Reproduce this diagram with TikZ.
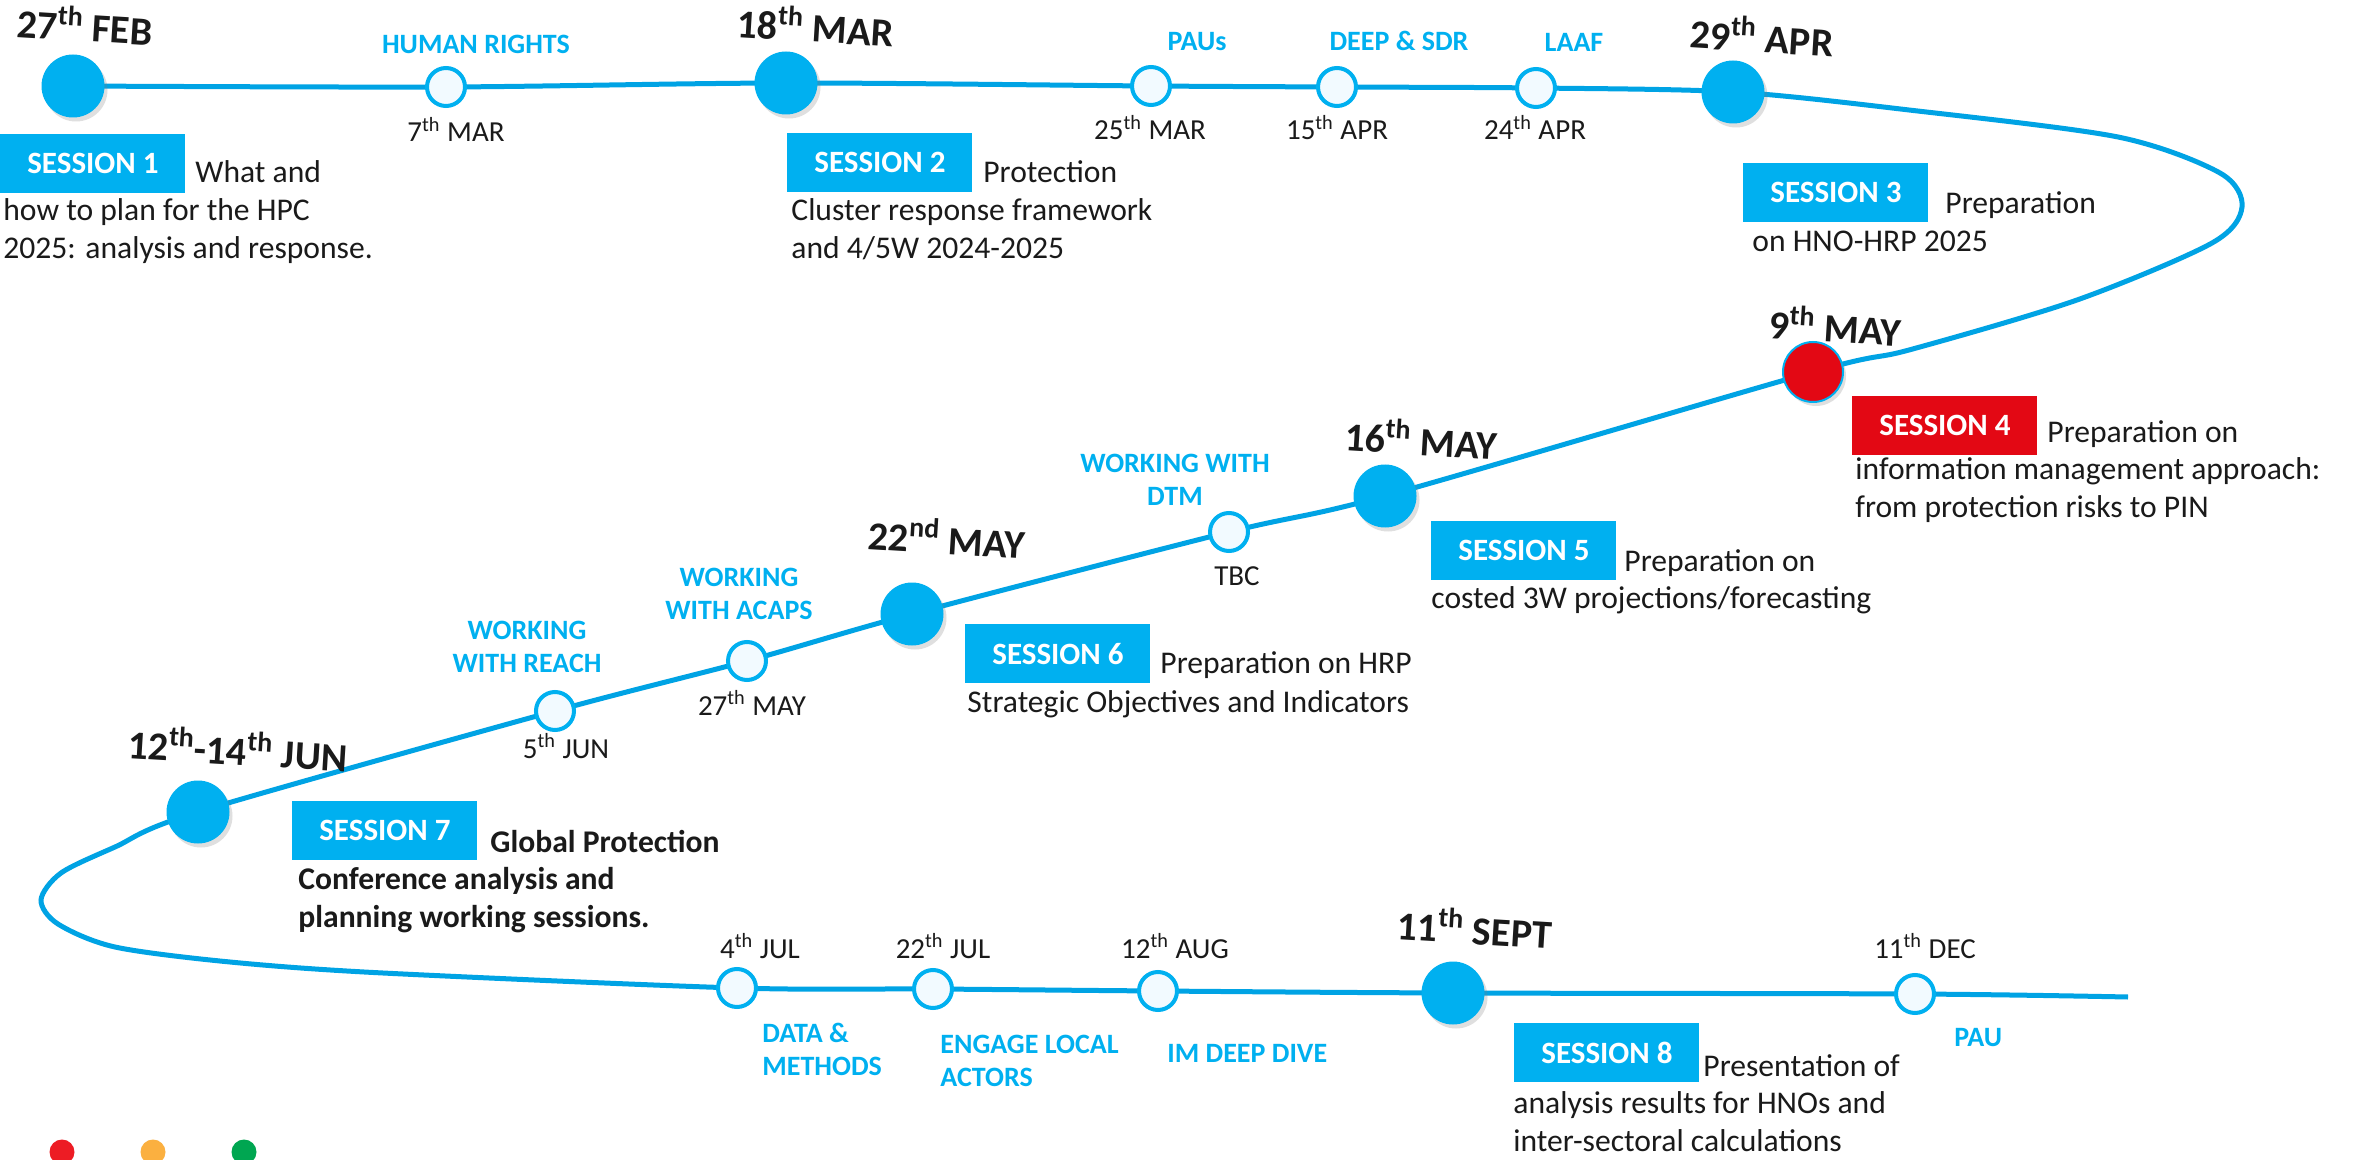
\documentclass[tikz,border=0pt]{standalone}
\usepackage{fontspec}
\setmainfont{Carlito}
\usetikzlibrary{shadows,backgrounds}

\definecolor{sessionblue}{RGB}{0,176,240}
\definecolor{trackblue}{RGB}{0,163,228}
\definecolor{sessionred}{RGB}{227,8,20}
\definecolor{darktext}{RGB}{26,26,26}
\definecolor{paleblue}{RGB}{242,250,255}
\definecolor{dotred}{RGB}{237,28,36}
\definecolor{dotorange}{RGB}{251,176,64}
\definecolor{dotgreen}{RGB}{0,166,81}

% first line of the block sits on the node's baseline
\newcommand{\leftlines}[1]{\begin{tabular}[t]{@{}l@{}}#1\end{tabular}}
\newcommand{\midlines}[1]{\begin{tabular}[t]{@{}c@{}}#1\end{tabular}}

\tikzset{
  track/.style={draw=trackblue, line width=2.5pt},
  bigstop/.style={circle, fill=sessionblue, minimum size=31.5pt, inner sep=0pt,
    drop shadow={shadow xshift=1.5pt, shadow yshift=-2pt, opacity=0.25}},
  ministop/.style={circle, draw=sessionblue, line width=2pt, fill=paleblue, minimum size=19pt, inner sep=0pt},
  datebig/.style={font=\fontsize{20}{24}\selectfont\bfseries, text=darktext, inner sep=0pt, rotate=-3.5},
  datesmall/.style={font=\fontsize{14.5}{17}\selectfont, text=darktext, inner sep=0pt, anchor=base},
  topic/.style={font=\fontsize{14}{16.5}\selectfont\bfseries, text=sessionblue, inner sep=0pt, anchor=base},
  topicleft/.style={topic, anchor=base west},
  sessionbox/.style={fill=sessionblue, text=white, font=\fontsize{15.5}{18}\selectfont\bfseries,
    minimum width=92.5pt, minimum height=29.5pt, inner sep=0pt, anchor=north west},
  sessiontext/.style={font=\fontsize{15.8}{19}\selectfont, text=darktext, inner sep=0pt, anchor=base west},
  legenddot/.style={circle, minimum size=12.5pt, inner sep=0pt},
}

\begin{document}
\begin{tikzpicture}[x=0.5pt,y=-0.5pt]
\useasboundingbox (0,0) rectangle (2356,1160);

%Stops: upper row
\node[bigstop] (feb) at (73,86) {};
\node[ministop] (mar7) at (446,87) {};
\node[bigstop] (mar18) at (786,83) {};
\node[ministop] (mar25) at (1151,86) {};
\node[ministop] (apr15) at (1337,87) {};
\node[ministop] (apr24) at (1536,88) {};
\node[bigstop] (apr29) at (1733,92) {};
%Stops: middle row
\node[bigstop, fill=sessionred, draw=sessionblue, line width=1pt, minimum size=30pt] (may9) at (1813,372) {};
\node[bigstop] (may16) at (1385,496) {};
\node[ministop] (tbc) at (1229,532) {};
\node[bigstop] (may22) at (912,614) {};
\node[ministop] (may27) at (747,661) {};
\node[ministop] (jun5) at (555,711) {};
\node[bigstop] (jun12) at (198,812) {};
%Stops: lower row
\node[ministop] (jul4) at (737,988) {};
\node[ministop] (jul22) at (933,989) {};
\node[ministop] (aug12) at (1158,991) {};
\node[bigstop] (sep11) at (1453,993) {};
\node[ministop] (dec11) at (1915,994) {};
\coordinate (trackend) at (2128,997);

%Turns
\coordinate (e1) at (1909,110);
\coordinate (e2) at (2118,137);
\coordinate (e3) at (2220,173);
\coordinate (e4) at (2242,207);
\coordinate (e5) at (2212,243);
\coordinate (e6) at (2077,300);
\coordinate (e7) at (1909,350);
\coordinate (w1) at (115,847);
\coordinate (w2) at (61,873);
\coordinate (w3) at (41,900);
\coordinate (w4) at (58,924);
\coordinate (w5) at (115,947);
\coordinate (w6) at (230,962);
\coordinate (w7) at (383,973);

\begin{scope}[on background layer]
\fill[white] (0,0) rectangle (2356,1160);
%Track
\draw[track] plot[smooth, tension=0.5] coordinates {(feb.center) (mar7.center) (mar18.center) (mar25.center) (apr15.center) (apr24.center) (apr29.center) (e1) (e2) (e3) (e4) (e5) (e6) (e7) (may9.center) (may16.center) (tbc.center) (may22.center) (may27.center) (jun5.center) (jun12.center) (w1) (w2) (w3) (w4) (w5) (w6) (w7) (jul4.center) (jul22.center) (aug12.center) (sep11.center) (dec11.center) (trackend)};
\end{scope}

% Text Node: big dates
\node[datebig] (febdate) at (85,24) {27\textsuperscript{th} FEB};
\node[datebig] (mar18date) at (816,25) {18\textsuperscript{th} MAR};
\node[datebig] (apr29date) at (1762,35) {29\textsuperscript{th} APR};
\node[datebig] (may9date) at (1835,325) {9\textsuperscript{th} MAY};
\node[datebig] (may16date) at (1421,438) {16\textsuperscript{th} MAY};
\node[datebig] (may22date) at (947,537) {22\textsuperscript{nd} MAY};
\node[datebig] (jun12date) at (238,748) {12\textsuperscript{th}-14\textsuperscript{th} JUN};
\node[datebig] (sep11date) at (1475,927) {11\textsuperscript{th} SEPT};

% Text Node: small dates
\node[datesmall] (mar7date) at (456,142) {7\textsuperscript{th} MAR};
\node[datesmall] (mar25date) at (1150,140) {25\textsuperscript{th} MAR};
\node[datesmall] (apr15date) at (1337,140) {15\textsuperscript{th} APR};
\node[datesmall] (apr24date) at (1535,140) {24\textsuperscript{th} APR};
\node[datesmall] (tbcdate) at (1237,585) {TBC};
\node[datesmall] (may27date) at (752,715) {27\textsuperscript{th} MAY};
\node[datesmall] (jun5date) at (566,758) {5\textsuperscript{th} JUN};
\node[datesmall] (jul4date) at (760,958) {4\textsuperscript{th} JUL};
\node[datesmall] (jul22date) at (943,958) {22\textsuperscript{th} JUL};
\node[datesmall] (aug12date) at (1175,958) {12\textsuperscript{th} AUG};
\node[datesmall] (dec11date) at (1925,958) {11\textsuperscript{th} DEC};

% Text Node: topics
\node[topic] (hrtopic) at (476,54) {HUMAN RIGHTS};
\node[topic] (paustopic) at (1197,51) {PAUs};
\node[topic] (deeptopic) at (1399,51) {DEEP \& SDR};
\node[topic] (laaftopic) at (1574,52) {LAAF};
\node[topic] (dtmtopic) at (1175,473) {\midlines{WORKING WITH\\DTM}};
\node[topic] (acapstopic) at (739,586) {\midlines{WORKING\\WITH ACAPS}};
\node[topic] (reachtopic) at (527,639) {\midlines{WORKING\\WITH REACH}};
\node[topicleft] (datatopic) at (762,1042) {\leftlines{DATA \&\\METHODS}};
\node[topicleft] (engagetopic) at (940,1053) {\leftlines{ENGAGE LOCAL\\ACTORS}};
\node[topicleft] (imtopic) at (1167,1062) {IM DEEP DIVE};
\node[topicleft] (pautopic) at (1954,1046) {PAU};

% Sessions
\node[sessionbox] (s1) at (0,134) {SESSION 1};
\node[sessiontext] (s1a) at (195,183) {What and};
\node[sessiontext] (s1b) at (3,221) {\leftlines{how to plan for the HPC\\2025: analysis and response.}};

\node[sessionbox] (s2) at (787,133) {SESSION 2};
\node[sessiontext] (s2a) at (983,183) {Protection};
\node[sessiontext] (s2b) at (791,221) {\leftlines{Cluster response framework\\and 4/5W 2024-2025}};

\node[sessionbox] (s3) at (1743,163) {SESSION 3};
\node[sessiontext] (s3a) at (1945,214) {Preparation};
\node[sessiontext] (s3b) at (1752,252) {on HNO-HRP 2025};

\node[sessionbox, fill=sessionred] (s4) at (1852,396) {SESSION 4};
\node[sessiontext] (s4a) at (2047,443) {Preparation on};
\node[sessiontext] (s4b) at (1855,480) {\leftlines{information management approach:\\from protection risks to PIN}};

\node[sessionbox] (s5) at (1431,521) {SESSION 5};
\node[sessiontext] (s5a) at (1624,571) {Preparation on};
\node[sessiontext] (s5b) at (1431,608) {costed 3W projections/forecasting};

\node[sessionbox] (s6) at (965,624) {SESSION 6};
\node[sessiontext] (s6a) at (1160,673) {Preparation on HRP};
\node[sessiontext] (s6b) at (967,712) {Strategic Objectives and Indicators};

\node[sessionbox] (s7) at (292,801) {SESSION 7};
\node[sessiontext, font=\fontsize{15.8}{19}\selectfont\bfseries] (s7a) at (490,852) {Global Protection};
\node[sessiontext, font=\fontsize{15.8}{19}\selectfont\bfseries] (s7b) at (298,889) {\leftlines{Conference analysis and\\planning working sessions.}};

\node[sessionbox] (s8) at (1514,1023) {SESSION 8};
\node[sessiontext] (s8a) at (1703,1076) {Presentation of};
\node[sessiontext] (s8b) at (1513,1113) {\leftlines{analysis results for HNOs and\\inter-sectoral calculations}};

% Legend dots
\node[legenddot, fill=dotred] (reddot) at (62,1152) {};
\node[legenddot, fill=dotorange] (orangedot) at (153,1152) {};
\node[legenddot, fill=dotgreen] (greendot) at (244,1152) {};

\end{tikzpicture}
\end{document}
